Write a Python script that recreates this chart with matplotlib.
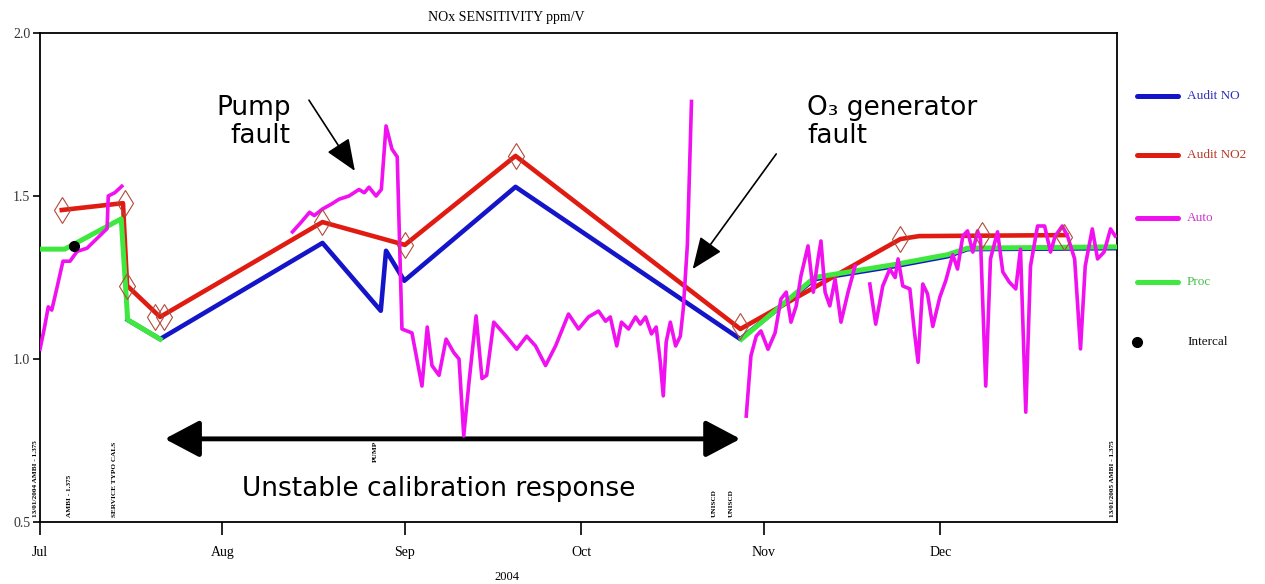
import numpy as np
import matplotlib
matplotlib.use('Agg')
import matplotlib.pyplot as plt
from matplotlib.lines import Line2D
from matplotlib.patches import ArrowStyle

# x values are days since 1 Jul 2004
month_days = [0, 31, 62, 92, 123, 153]
month_labels = ['Jul', 'Aug', 'Sep', 'Oct', 'Nov', 'Dec']

no_days = [14.9, 20.4, 48.0, 57.9, 58.8, 61.9, 80.8, 119.0, 131.6, 145.3, 154.2, 157.6, 183]
no_vals = [1.12, 1.061, 1.356, 1.148, 1.332, 1.24, 1.528, 1.061, 1.245, 1.285, 1.315, 1.337, 1.34]

no2_days = [3.7, 14.1, 14.8, 20.4, 48.0, 62.0, 80.8, 119.0, 146.2, 149.4, 174.4]
no2_vals = [1.457, 1.478, 1.225, 1.129, 1.42, 1.35, 1.623, 1.092, 1.368, 1.377, 1.38]

no2_pt_days = [3.7, 14.4, 14.8, 19.6, 21.0, 48.0, 62.0, 80.8, 119.0, 146.2, 160.0, 174.0]
no2_pt_vals = [1.457, 1.48, 1.225, 1.13, 1.13, 1.42, 1.35, 1.623, 1.10, 1.368, 1.38, 1.374]

proc_days = [0, 4.2, 13.8, 14.9, 20.4, 70.0, 119.2, 131.6, 145.3, 154.2, 157.6, 183]
proc_vals = [1.337, 1.337, 1.43, 1.12, 1.061, np.nan, 1.061, 1.25, 1.29, 1.32, 1.34, 1.344]

intercal_days = [5.8]
intercal_vals = [1.348]

auto_days = [0, 0.8, 1.4, 2.0, 2.9, 3.9, 5.1, 6.3, 8.0, 9.7, 11.4, 11.6, 12.7, 13.9,
             28.0,
             42.9, 44.4, 45.8, 46.6, 48.0, 49.5, 50.8, 52.5, 54.2, 55.1, 55.9, 57.1, 58.0,
             58.8, 59.8, 60.7, 61.5, 63.2, 64.9, 65.8, 66.6, 67.8, 69.0, 70.3, 71.2, 72.0,
             72.9, 74.1, 75.1, 75.9, 77.1, 79.2, 81.0, 82.7, 84.2, 85.9, 87.6, 89.8, 91.5,
             93.2, 94.9, 96.1, 96.9, 98.0, 98.8, 100.0, 101.2, 102.0, 102.9, 103.9, 104.7,
             105.4, 105.9, 106.4, 107.1, 108.0, 108.8, 109.3, 110.0, 110.7,
             115.0,
             120.0, 120.8, 121.7, 122.5, 123.7, 124.9, 125.9, 126.8, 127.6, 128.5, 129.3,
             130.5, 131.4, 132.2, 132.7, 133.4, 134.2, 135.1, 136.1, 137.3, 138.5,
             139.7,
             141.0, 142.0, 143.2, 144.4, 145.3, 145.8, 146.6, 147.8, 148.6, 149.2, 150.0,
             150.8, 151.7, 152.9, 153.9, 155.1, 155.9, 156.8, 157.6, 158.5, 159.3, 159.8,
             160.7, 161.5, 162.7, 163.6, 164.7, 165.8, 166.6, 167.5, 168.3, 169.5, 170.7,
             171.7, 172.5, 173.7, 174.6, 175.8, 176.8, 177.6, 178.8, 179.7, 180.8, 181.9,
             182.7]
auto_vals = [1.03, 1.10, 1.16, 1.15, 1.22, 1.30, 1.30, 1.33, 1.34, 1.37, 1.40, 1.50, 1.51, 1.53,
             np.nan,
             1.39, 1.42, 1.45, 1.44, 1.46, 1.475, 1.49, 1.50, 1.52, 1.51, 1.527, 1.50, 1.52,
             1.715, 1.644, 1.62, 1.092, 1.08, 0.917, 1.098, 0.98, 0.95, 1.061, 1.02, 1.0, 0.764,
             0.93, 1.132, 0.94, 0.95, 1.113, 1.07, 1.03, 1.07, 1.04, 0.98, 1.04, 1.138, 1.092,
             1.129, 1.147, 1.116, 1.129, 1.04, 1.113, 1.092, 1.129, 1.107, 1.129, 1.077, 1.098,
             0.99, 0.887, 1.052, 1.113, 1.04, 1.07, 1.153, 1.35, 1.79,
             np.nan,
             0.825, 1.01, 1.07, 1.086, 1.03, 1.08, 1.184, 1.205, 1.113, 1.163, 1.255,
             1.347, 1.205, 1.307, 1.362, 1.205, 1.163, 1.245, 1.113, 1.205, 1.285,
             np.nan,
             1.23, 1.107, 1.224, 1.276, 1.25, 1.307, 1.224, 1.215, 1.08, 0.99, 1.23,
             1.20, 1.10, 1.19, 1.24, 1.32, 1.276, 1.377, 1.393, 1.328, 1.393, 1.368,
             0.917, 1.307, 1.39, 1.267, 1.236, 1.215, 1.337, 0.837, 1.285, 1.408, 1.408,
             1.328, 1.377, 1.408, 1.377, 1.307, 1.031, 1.285, 1.399, 1.307, 1.328, 1.399,
             1.377]

event_days = [-0.7, 5.0, 12.6, 56.9, 114.6, 117.4, 182.3]
event_base = [0.515, 0.515, 0.515, 0.685, 0.515, 0.515, 0.515]
event_labels = ['13/01/2004 AMBI - 1.375', 'AMBI - 1.375', 'SERVICE TYPO CALS', 'PUMP',
                'UNISCD', 'UNISCD', '13/01/2005 AMBI - 1.375']

legend_labels = ['Audit NO', 'Audit NO2', 'Auto', 'Proc', 'Intercal']

c_no = '#1414c8'
c_no2 = '#e01c12'
c_auto = '#f010f0'
c_proc = '#3ee83e'
serif = 'Liberation Serif'

fig = plt.figure(figsize=(12.65, 5.84), dpi=100)
ax = fig.add_axes([40/1265, 62/584, 1077/1265, 489/584])

ax.plot(no_days, no_vals, color=c_no, lw=3.3, zorder=2)
ax.plot(no2_days, no2_vals, color=c_no2, lw=3.3, zorder=3)
ax.plot(proc_days, proc_vals, color=c_proc, lw=3.6, zorder=4)
ax.plot(auto_days, auto_vals, color=c_auto, lw=2.6, zorder=5)
ax.plot(no2_pt_days, no2_pt_vals, ls='none', marker='d', ms=13, mfc='none',
        mec='#b04a3a', mew=0.8, zorder=6)
ax.plot(intercal_days, intercal_vals, ls='none', marker='o', ms=7, color='black', zorder=7)

ax.set_xlim(0, 183)
ax.set_ylim(0.5, 2.0)
ax.set_xticks(month_days)
ax.set_xticklabels(month_labels, family=serif, fontsize=10)
ax.set_yticks([0.5, 1.0, 1.5, 2.0])
ax.set_yticklabels(['0.5', '1.0', '1.5', '2.0'], family=serif, fontsize=10, color='#333333')
ax.tick_params(axis='x', length=9, width=1.2, pad=8)
ax.tick_params(axis='y', length=5, width=1.2, pad=2)
for s in ax.spines.values():
    s.set_linewidth(1.3)

for d, b, lab in zip(event_days, event_base, event_labels):
    ax.text(d, b, lab, rotation=90, fontsize=5.2, family=serif, weight='bold',
            ha='center', va='bottom', clip_on=False)

fig.text(506/1265, 1 - 17/584, 'NOx SENSITIVITY ppm/V', family=serif, fontsize=10,
         ha='center', va='center')
fig.text(507/1265, 1 - 577/584, '2004', family=serif, fontsize=9, ha='center', va='center')

# annotations
ax.text(42.6, 1.81, 'Pump\nfault', fontsize=19, ha='right', va='top', linespacing=1.1)
ax.text(130.4, 1.81, 'O\u2083 generator\nfault', fontsize=19, ha='left', va='top',
        linespacing=1.1)
ax.annotate('', xy=(53.5, 1.577), xytext=(45.7, 1.794),
            arrowprops=dict(arrowstyle=ArrowStyle('-|>', head_length=1.1, head_width=0.45),
                            mutation_scale=18, color='black', lw=1.2, shrinkA=0, shrinkB=0))
ax.annotate('', xy=(110.9, 1.276), xytext=(125.1, 1.629),
            arrowprops=dict(arrowstyle=ArrowStyle('-|>', head_length=1.1, head_width=0.45),
                            mutation_scale=18, color='black', lw=1.2, shrinkA=0, shrinkB=0))
ax.annotate('', xy=(21.2, 0.755), xytext=(119.0, 0.755),
            arrowprops=dict(arrowstyle=ArrowStyle('<|-|>', head_length=0.85, head_width=0.45),
                            mutation_scale=25, color='black', lw=3.5, shrinkA=0, shrinkB=0))
ax.text(67.8, 0.58, 'Unstable calibration response', fontsize=19, ha='center',
        va='baseline')

# legend drawn on the right
legend_y = [96, 155, 218, 282, 342]
legend_colors = [c_no, c_no2, c_auto, c_proc, 'black']
text_colors = ['#3030b8', '#b83a2a', '#c838c8', '#48c048', '#111111']
for i, lab in enumerate(legend_labels):
    yy = 1 - legend_y[i]/584
    if lab == 'Intercal':
        fig.add_artist(Line2D([1137/1265], [yy], marker='o', ms=7, color='black', ls='none'))
    else:
        fig.add_artist(Line2D([1137/1265, 1178/1265], [yy, yy], color=legend_colors[i], lw=3.6,
                              solid_capstyle='round'))
    fig.text(1187/1265, yy, lab, color=text_colors[i], family=serif, fontsize=9.5,
             ha='left', va='center')

fig.savefig('out.png', dpi=100)
